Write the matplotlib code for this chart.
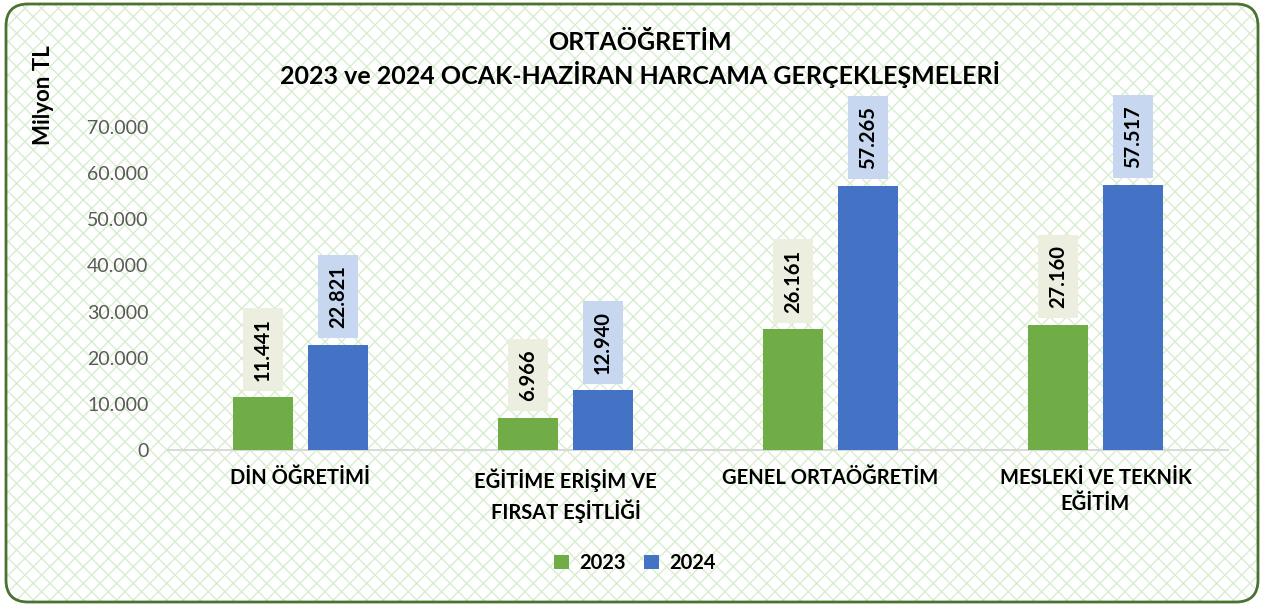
import matplotlib
matplotlib.use("Agg")
import matplotlib.pyplot as plt
from matplotlib.patches import FancyBboxPatch
import numpy as np

categories = ["DİN ÖĞRETİMİ", "EĞİTİME ERİŞİM VE\nFIRSAT EŞİTLİĞİ",
              "GENEL ORTAÖĞRETİM", "MESLEKİ VE TEKNİK\nEĞİTİM"]
values_2023 = [11441, 6966, 26161, 27160]
values_2024 = [22821, 12940, 57265, 57517]
series_names = ["2023", "2024"]
yticks = [0, 10000, 20000, 30000, 40000, 50000, 60000, 70000]
title_lines = ["ORTAÖĞRETİM", "2023 ve 2024 OCAK-HAZİRAN HARCAMA GERÇEKLEŞMELERİ"]
ylabel = "Milyon TL"

def fmt(v):
    return f"{v:,}".replace(",", ".")

plt.rcParams['font.family'] = ['Lato', 'DejaVu Sans']

W, H = 1264, 606
fig = plt.figure(figsize=(W/100, H/100), dpi=100)
fig.patch.set_facecolor("white")

# background rounded frame with diamond pattern (inch coordinates)
bg = FancyBboxPatch((0.06, 0.04), 12.52, 5.98,
                    boxstyle="round,pad=0,rounding_size=0.22",
                    transform=fig.dpi_scale_trans, facecolor="white",
                    edgecolor="#D8EDCF", hatch="xx", linewidth=0, zorder=-3)
fig.patches.append(bg)
border = FancyBboxPatch((0.06, 0.04), 12.52, 5.98,
                        boxstyle="round,pad=0,rounding_size=0.22",
                        transform=fig.dpi_scale_trans, facecolor="none",
                        edgecolor="#4A7230", linewidth=2.0, zorder=-2)
fig.patches.append(border)

ax = fig.add_axes([168/W, (H-450)/H, 1060/W, (450-127)/H])
ax.set_facecolor("none")
x = np.arange(len(categories))
bw = 0.226
off = 0.1415
green = "#70AD47"
blue = "#4472C4"
b1 = ax.bar(x - off, values_2023, bw, color=green, zorder=3, label=series_names[0])
b2 = ax.bar(x + off, values_2024, bw, color=blue, zorder=3, label=series_names[1])
ax.set_xlim(-0.5, len(categories) - 0.5)
ax.set_ylim(0, 70000)
ax.set_yticks(yticks)
ax.set_yticklabels([fmt(v) for v in yticks], fontsize=14, color="#595959")
ax.set_xticks(x)
ax.set_xticklabels(categories, fontsize=14.5, fontweight="bold", color="black",
                   linespacing=1.4)
ax.tick_params(axis="both", length=0)
ax.tick_params(axis="y", pad=14)
ax.tick_params(axis="x", pad=13)
for s in ["top", "right", "left"]:
    ax.spines[s].set_visible(False)
ax.spines["bottom"].set_color("#D9D9D9")
ax.spines["bottom"].set_linewidth(1.5)

for bars, vals, boxc in [(b1, values_2023, "#ECEEE0"), (b2, values_2024, "#C6D7EF")]:
    for rect, v in zip(bars, vals):
        ax.annotate(fmt(v), (rect.get_x() + rect.get_width()/2, v),
                    xytext=(0, 12), textcoords="offset points",
                    rotation=90, ha="center", va="bottom",
                    fontsize=14.5, fontweight="bold", color="black",
                    bbox=dict(boxstyle="square,pad=0.5", facecolor=boxc,
                              edgecolor="none"),
                    zorder=4, annotation_clip=False)

fig.text(640/W, 1 - 42/H, title_lines[0], ha="center", va="center",
         fontsize=18, fontweight="bold")
fig.text(640/W, 1 - 75/H, title_lines[1], ha="center", va="center",
         fontsize=18, fontweight="bold")
fig.text(44/W, 1 - 95/H, ylabel, ha="center", va="center", rotation=90,
         fontsize=16, fontweight="bold")

leg = fig.legend(handles=[b1, b2], labels=series_names, loc="center",
                 bbox_to_anchor=(635/W, 1 - 563/H), ncol=2, frameon=False,
                 prop=dict(size=14.5, weight="bold"), handlelength=0.75,
                 handleheight=0.75, handletextpad=0.5, columnspacing=0.9)

fig.savefig("out.png", dpi=100)
